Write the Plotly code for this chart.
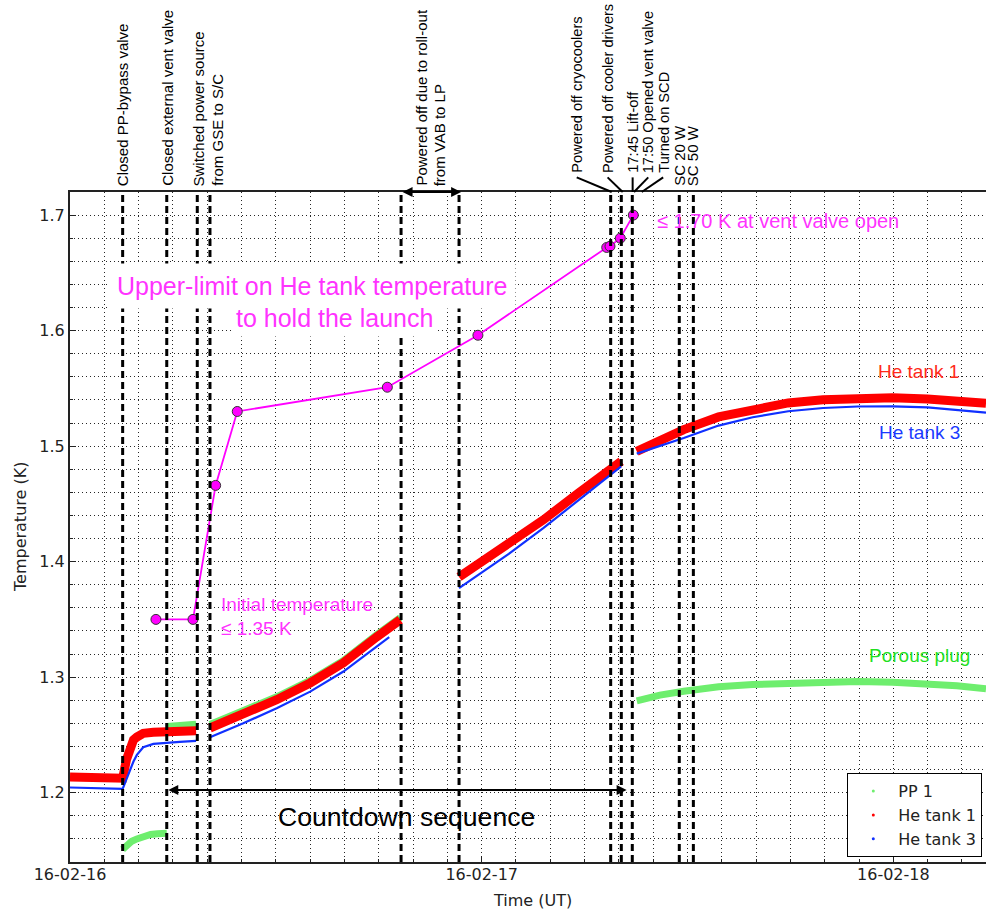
import pandas as pd
import plotly.graph_objects as go

# ---------------- data (hours after 2016-02-16 00:00 UT) ----------------
T0 = pd.Timestamp("2016-02-16 00:00")

# He tank 1 / He tank 3 segments
seg1_hours = [0.0, 0.5, 1.0, 1.5, 2.0, 2.5, 3.07, 3.3, 3.5, 3.7, 3.9, 4.27, 4.86, 5.64, 6.4, 7.35]
seg1_he1 = [1.2135, 1.2133, 1.2131, 1.2129, 1.2128, 1.2127, 1.2125, 1.2290, 1.2405, 1.2457, 1.2482,
            1.2514, 1.2523, 1.2529, 1.2533, 1.2537]
seg1_he3 = [1.2045, 1.2043, 1.2041, 1.2039, 1.2037, 1.2035, 1.2033, 1.2120, 1.2197, 1.2270, 1.2327,
            1.2393, 1.2422, 1.2433, 1.2440, 1.2448]

seg2_hours = [8.16, 10.1, 12.05, 14.0, 15.94, 17.89, 18.61, 19.25]
seg2_he1 = [1.2560, 1.2680, 1.2805, 1.2950, 1.3125, 1.3350, 1.3425, 1.3497]
seg2_he3 = [1.2480, 1.2601, 1.2731, 1.2875, 1.3049, 1.3271, 1.3347, None]
seg2_pp1 = [1.2590, 1.2705, 1.2830, 1.2972, 1.3145, 1.3370, 1.3445, 1.3515]

seg3_hours = [22.68, 25.58, 27.61, 29.64, 32.13]
seg3_he1 = [1.3867, 1.4161, 1.4363, 1.4594, 1.4868]
seg3_he3 = [1.3771, 1.4068, 1.4292, 1.4530, 1.4825]

seg4_hours = [33.04, 34.39, 35.78, 37.81, 39.8, 41.87, 43.9, 45.93, 47.96, 49.99, 51.7, 53.4]
seg4_he1 = [1.4955, 1.5055, 1.5143, 1.5253, 1.5320, 1.5374, 1.5402, 1.5418, 1.5418, 1.5409, 1.5393, 1.5372]
seg4_he3 = [1.4935, 1.5000, 1.5070, 1.5178, 1.5250, 1.5302, 1.5330, 1.5343, 1.5345, 1.5335, 1.5315, 1.5290]
seg4_pp1 = [1.2795, 1.2845, 1.2878, 1.2917, 1.2937, 1.2950, 1.2958, 1.2962, 1.2957, 1.2944, 1.2925, 1.2900]

# PP 1 (porous plug) early segments
pp1_a_hours = [3.07, 3.3, 3.6, 3.9, 4.3, 4.7, 5.1, 5.64]
pp1_a = [1.151, 1.155, 1.158, 1.160, 1.1625, 1.1638, 1.1645, 1.1648]
pp1_b_hours = [5.64, 6.5, 7.35]
pp1_b = [1.2572, 1.2583, 1.2593]

# Upper limit on He tank temperature
limit_hours = [5.01, 7.17, 8.49, 9.75, 18.50, 23.78, 31.29, 31.48, 32.08, 32.84]
limit_K = [1.35, 1.35, 1.466, 1.530, 1.551, 1.596, 1.672, 1.673, 1.680, 1.700]

# Events (vertical dashed lines)
event_hours = [3.07, 5.64, 7.42, 8.16, 19.30, 22.68, 31.52, 32.14, 32.78, 35.52, 36.34]

# Event labels: (text, hour of label centre, leader line (from hour, to hour) or None)
event_labels = [
    ("Closed PP-bypass valve", 3.07, None),
    ("Closed external vent valve", 5.64, None),
    ("Switched power source", 7.52, None),
    ("from GSE to S/C", 8.55, None),
    ("Powered off due to roll-out", 20.44, None),
    ("from VAB to LP", 21.53, None),
    ("Powered off cryocoolers", 29.54, (29.54, 31.58)),
    ("Powered off cooler drivers", 31.34, (31.34, 32.22)),
    ("17:45 Lift-off", 32.80, (32.80, 32.80)),
    ("17:50 Opened vent valve", 33.71, (33.71, 32.88)),
    ("Turned on SCD", 34.58, (34.58, 33.33)),
    ("SC 20 W", 35.52, None),
    ("SC 50 W", 36.30, None),
]

X_MAX_HOURS = 53.40
Y_RANGE = [1.14, 1.72]


def ts(hours):
    return [None if h is None else T0 + pd.Timedelta(hours=h) for h in hours]


def join(*segs):
    xs, ys = [], []
    for i, (h, v) in enumerate(segs):
        if i:
            xs.append(None)
            ys.append(None)
        xs += ts(h)
        ys += list(v)
    return xs, ys


# ---------------- figure ----------------
GREEN = "rgb(110,238,110)"
RED = "#ff0000"
BLUE = "#1030ff"
MAG = "#ff00ff"
MAG_TXT = "#ff33ff"

fig = go.Figure()

px_, py_ = join((pp1_a_hours, pp1_a), (pp1_b_hours, pp1_b), (seg2_hours, seg2_pp1), (seg4_hours, seg4_pp1))
fig.add_trace(go.Scatter(x=px_, y=py_, mode="lines", line=dict(color=GREEN, width=7),
                         showlegend=False, connectgaps=False, hoverinfo="skip"))

rx, ry = join((seg1_hours, seg1_he1), (seg2_hours, seg2_he1), (seg3_hours, seg3_he1), (seg4_hours, seg4_he1))
fig.add_trace(go.Scatter(x=rx, y=ry, mode="lines", line=dict(color=RED, width=9),
                         showlegend=False, connectgaps=False, hoverinfo="skip"))

bx, by = join((seg1_hours, seg1_he3), (seg2_hours, seg2_he3), (seg3_hours, seg3_he3), (seg4_hours, seg4_he3))
fig.add_trace(go.Scatter(x=bx, y=by, mode="lines", line=dict(color=BLUE, width=2.2),
                         showlegend=False, connectgaps=False, hoverinfo="skip"))

fig.add_trace(go.Scatter(x=ts(limit_hours), y=limit_K, mode="lines+markers",
                         line=dict(color=MAG, width=1.8),
                         marker=dict(color=MAG, size=10, line=dict(color="#333333", width=1)),
                         showlegend=False))

# legend-only entries (small dots as in the reference)
for name, col in [("PP 1", GREEN), ("He tank 1", RED), ("He tank 3", BLUE)]:
    fig.add_trace(go.Scatter(x=[None], y=[None], mode="markers", name=name,
                             marker=dict(color=col, size=3)))

shapes = []
for h in event_hours:
    t = T0 + pd.Timedelta(hours=h)
    shapes.append(dict(type="line", xref="x", yref="paper", x0=t, x1=t, y0=0, y1=1,
                       line=dict(color="black", width=3, dash="7px,4px")))

PLOT_TOP, PLOT_BOT = 192.3, 861.7


def paper_y(px):
    return (PLOT_BOT - px) / (PLOT_BOT - PLOT_TOP)


annotations = []
for text, h, leader in event_labels:
    t = T0 + pd.Timedelta(hours=h)
    annotations.append(dict(text=text, x=t, xref="x", y=1, yref="paper", textangle=-90,
                            xanchor="center", yanchor="bottom", showarrow=False,
                            yshift=17 if leader else 4,
                            font=dict(family="Liberation Sans, Arial", size=14.6 if leader else 15,
                                      color="black")))
    if leader:
        shapes.append(dict(type="line", xref="x", yref="paper",
                           x0=T0 + pd.Timedelta(hours=leader[0]), y0=paper_y(177.7),
                           x1=T0 + pd.Timedelta(hours=leader[1]), y1=1.0,
                           line=dict(color="black", width=2)))

# roll-out double arrow on top axis
annotations.append(dict(x=T0 + pd.Timedelta(hours=22.80), y=1, xref="x", yref="paper",
                        ax=T0 + pd.Timedelta(hours=19.30), ay=0, axref="x", ayref="pixel",
                        text="", showarrow=True, arrowhead=2, startarrowhead=2,
                        arrowside="end+start", arrowwidth=2, arrowsize=1, arrowcolor="black",
                        standoff=0, startstandoff=0))
# countdown double arrow
annotations.append(dict(x=T0 + pd.Timedelta(hours=32.45), y=1.2023, xref="x", yref="y",
                        ax=T0 + pd.Timedelta(hours=5.64), ay=1.2023, axref="x", ayref="y",
                        text="", showarrow=True, arrowhead=2, startarrowhead=2,
                        arrowside="end+start", arrowwidth=2, arrowsize=1, arrowcolor="black",
                        standoff=0, startstandoff=0))

AF = "Liberation Sans, Arial"


def txt(text, h, y, color, size, xanchor="center", bg=None, pad=1):
    d = dict(text=text, x=T0 + pd.Timedelta(hours=h), y=y, xref="x", yref="y",
             xanchor=xanchor, yanchor="middle", showarrow=False,
             font=dict(family=AF, size=size, color=color), borderpad=pad)
    if bg:
        d["bgcolor"] = bg
    annotations.append(d)


txt("Upper-limit on He tank temperature", 14.08, 1.6385, MAG_TXT, 25, bg="white", pad=8)
txt("to hold the launch", 15.40, 1.6111, MAG_TXT, 25, bg="white", pad=4)
txt("Initial temperature", 8.70, 1.3627, MAG_TXT, 19, xanchor="left")
txt("≤ 1.35 K", 8.70, 1.3425, MAG_TXT, 19, xanchor="left")
txt("≤ 1.70 K at vent valve open", 34.12, 1.6948, MAG_TXT, 20, xanchor="left")
txt("He tank 1", 49.49, 1.5643, "#ff2a1a", 19)
txt("He tank 3", 49.55, 1.5114, "#1a3aff", 19)
txt("Porous plug", 49.55, 1.3185, "#1fe01f", 19)
txt("Countdown sequence", 19.59, 1.1792, "black", 26.6)

# axis titles
annotations.append(dict(text="Time (UT)", x=(532 - 70) / 916, y=paper_y(900), xref="paper", yref="paper",
                        showarrow=False, xanchor="center", yanchor="middle",
                        font=dict(family="DejaVu Sans", size=16, color="#222222")))
annotations.append(dict(text="Temperature (K)", x=(20 - 70) / 916, y=0.5, xref="paper", yref="paper",
                        showarrow=False, xanchor="center", yanchor="middle", textangle=-90,
                        font=dict(family="DejaVu Sans", size=16, color="#222222")))

GRID = "rgba(0,0,0,0.85)"
fig.update_layout(
    width=986, height=910,
    margin=dict(l=70, r=0, t=PLOT_TOP, b=910 - PLOT_BOT, autoexpand=False),
    paper_bgcolor="white", plot_bgcolor="white",
    font=dict(family="DejaVu Sans", size=16, color="#222222"),
    shapes=shapes, annotations=annotations,
    legend=dict(x=(847.3 - 70) / 916, y=paper_y(773), xanchor="left", yanchor="top",
                bordercolor="black", borderwidth=1, bgcolor="white", itemwidth=40,
                font=dict(family="DejaVu Sans", size=16, color="#222222")),
    xaxis=dict(type="date", range=[T0, T0 + pd.Timedelta(hours=X_MAX_HOURS)],
               tick0=T0, dtick=86400000, tickformat="%y-%m-%d",
               showline=True, linecolor="#222222", linewidth=2, mirror=True,
               ticks="inside", ticklen=6, tickcolor="#222222", ticklabelstandoff=-3,
               showgrid=True, gridcolor=GRID, gridwidth=1, griddash="1px,3px",
               zeroline=False,
               minor=dict(tick0=T0, dtick=7200000, showgrid=True, gridcolor=GRID, gridwidth=1,
                          griddash="1px,3px", ticks="inside", ticklen=3, tickcolor="#222222")),
    yaxis=dict(range=Y_RANGE, tick0=1.0, dtick=0.1, tickformat=".1f",
               showline=True, linecolor="#222222", linewidth=2, mirror=False,
               ticks="inside", ticklen=6, tickcolor="#222222",
               showgrid=True, gridcolor=GRID, gridwidth=1, griddash="1px,3px",
               zeroline=False,
               minor=dict(tick0=1.0, dtick=0.02, showgrid=True, gridcolor=GRID, gridwidth=1,
                          griddash="1px,3px", ticks="inside", ticklen=3, tickcolor="#222222")),
)

fig.write_html("out.html", config={"displayModeBar": False},
               post_script="document.body.style.margin='0px';document.body.style.overflow='hidden';")
